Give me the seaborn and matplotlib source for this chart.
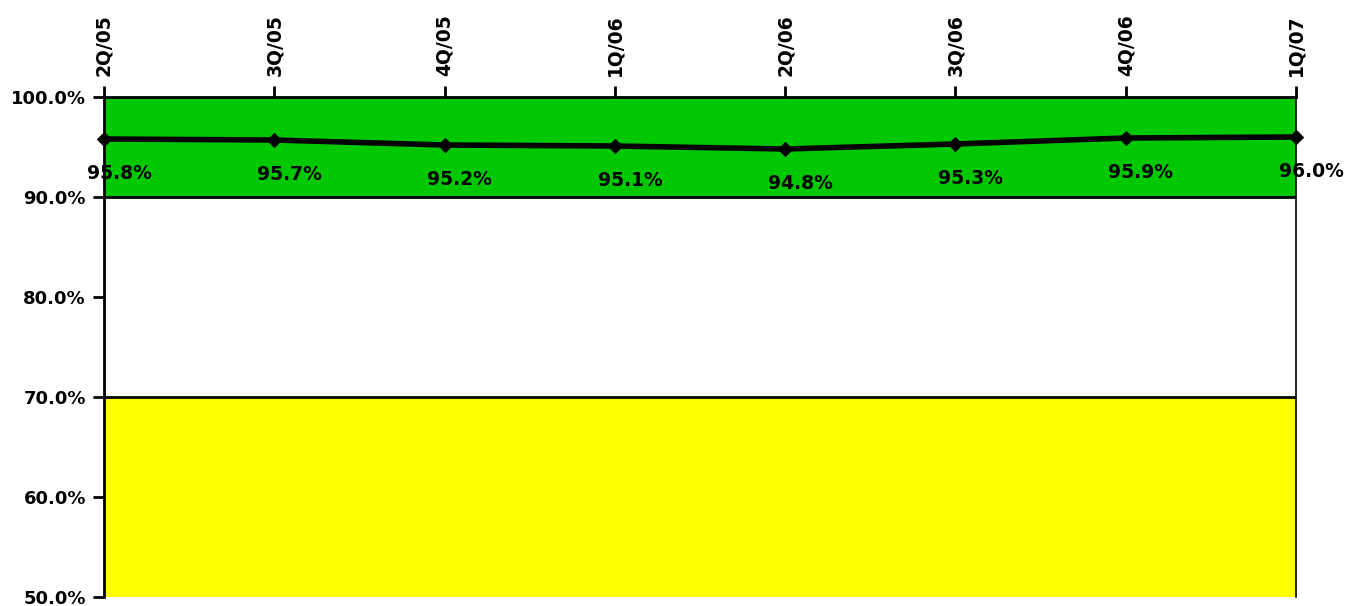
import numpy as np
import pandas as pd
import matplotlib
matplotlib.use('Agg')
import matplotlib.pyplot as plt
import seaborn as sns

# quarters and values
quarters = ['2Q/05', '3Q/05', '4Q/05', '1Q/06', '2Q/06', '3Q/06', '4Q/06', '1Q/07']
values = [95.8, 95.7, 95.2, 95.1, 94.8, 95.3, 95.9, 96.0]
y_ticks = [50, 60, 70, 80, 90, 100]

# background bands
green_band = (90, 100)
yellow_band = (50, 70)

df = pd.DataFrame({'Quarter': quarters, 'Value': values})

sns.set_style('white')
plt.rcParams['font.family'] = ['DejaVu Sans']
plt.rcParams['font.weight'] = 'bold'
plt.rcParams['text.color'] = 'black'

fig = plt.figure(figsize=(13.47, 6.06), dpi=100)
ax = fig.add_axes([104 / 1347, 1 - 597 / 606, (1296 - 104) / 1347, (597 - 97) / 606])

# coloured zones
ax.axhspan(*green_band, color='#00C800', zorder=0)
ax.axhspan(*yellow_band, color='#FFFF00', zorder=0)
ax.axhline(90, color='black', lw=2, zorder=1)
ax.axhline(70, color='black', lw=2, zorder=1)

sns.lineplot(data=df, x='Quarter', y='Value', ax=ax, color='black', lw=4,
             marker='D', markersize=7, markeredgecolor='black', zorder=3,
             clip_on=False)

# data labels under each point (slightly to the right, like the original)
for i, v in enumerate(values):
    ax.annotate(f'{v:.1f}%', (i, v), xytext=(11, -25), textcoords='offset points',
                ha='center', va='center', fontsize=13.5, fontweight='bold',
                color='black', zorder=4)

ax.set_xlim(0, len(quarters) - 1)
ax.set_ylim(50, 100)
ax.set_yticks(y_ticks)
ax.set_yticklabels([f'{t:.1f}%' for t in y_ticks], fontsize=13, fontweight='bold')
ax.xaxis.tick_top()
ax.set_xticks(range(len(quarters)))
ax.set_xticklabels(quarters, rotation=90, fontsize=13.5, fontweight='bold')
ax.tick_params(axis='y', left=True, direction='out', length=8, width=2,
               color='black', labelcolor='black', pad=5)
ax.tick_params(axis='x', top=True, direction='out', length=8, width=2,
               color='black', labelcolor='black', pad=7)
ax.set_xlabel('')
ax.set_ylabel('')

for side in ['left', 'top']:
    ax.spines[side].set_color('black')
    ax.spines[side].set_linewidth(2)
ax.spines['right'].set_color('black')
ax.spines['right'].set_linewidth(1.2)
ax.spines['bottom'].set_visible(False)

fig.savefig('out.png', dpi=100)
